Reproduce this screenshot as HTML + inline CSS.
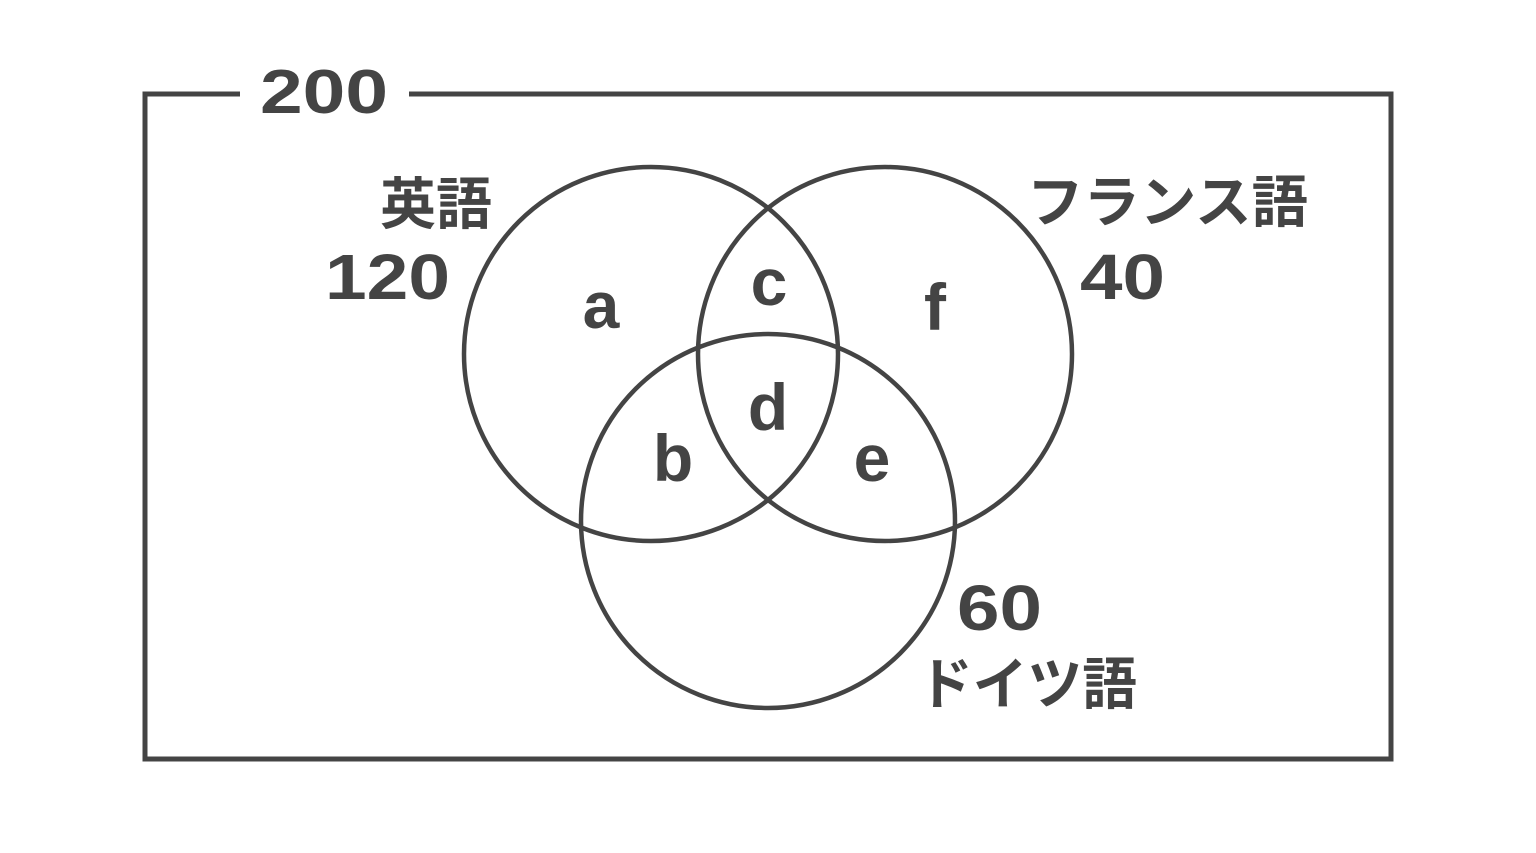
<!DOCTYPE html>
<html><head><meta charset="utf-8"><style>
html,body{margin:0;padding:0;background:#fff;}
svg{display:block;}
text{font-family:"Liberation Sans","Noto Sans CJK JP",sans-serif;font-weight:bold;fill:#444;}
</style></head><body>
<svg width="1536" height="853" viewBox="0 0 1536 853" xmlns="http://www.w3.org/2000/svg">
<g fill="none" stroke="#444" stroke-width="5">
<polyline points="240,94 145,94 145,759 1391,759 1391,94 409,94"/>
</g>
<g fill="none" stroke="#444" stroke-width="4.5">
<circle cx="651" cy="354" r="187"/>
<circle cx="885" cy="354" r="187"/>
<circle cx="768" cy="521" r="187"/>
</g>
<text x="260" y="113" font-size="62" textLength="128" lengthAdjust="spacingAndGlyphs">200</text>
<text x="380" y="224" font-size="56" textLength="112" lengthAdjust="spacingAndGlyphs">英語</text>
<text x="325" y="299" font-size="64" textLength="125" lengthAdjust="spacingAndGlyphs">120</text>
<text x="1027" y="222" font-size="56" textLength="281" lengthAdjust="spacingAndGlyphs">フランス語</text>
<text x="1080" y="299" font-size="64" textLength="85" lengthAdjust="spacingAndGlyphs">40</text>
<text x="957" y="630" font-size="64" textLength="85" lengthAdjust="spacingAndGlyphs">60</text>
<text x="918" y="704" font-size="56" textLength="219" lengthAdjust="spacingAndGlyphs">ドイツ語</text>
<g font-size="66" text-anchor="middle">
<text x="601" y="328">a</text>
<text x="769" y="305">c</text>
<text x="935" y="330">f</text>
<text x="768" y="430">d</text>
<text x="673" y="481">b</text>
<text x="872" y="481">e</text>
</g>
</svg>
</body></html>
